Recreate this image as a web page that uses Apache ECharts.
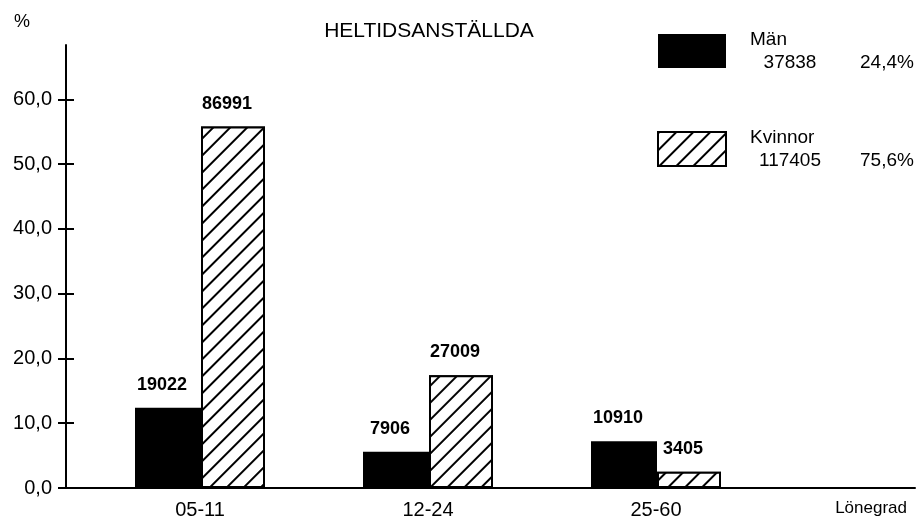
<!DOCTYPE html>
<html>
<head>
<meta charset="utf-8">
<script src="https://cdn.jsdelivr.net/npm/echarts@6/dist/echarts.min.js"></script>
<style>
  html, body { margin: 0; padding: 0; background: #fff; }
  #chart { width: 921px; height: 522px; }
</style>
</head>
<body>
<div id="chart"></div>
<script>
const categories = ['05-11', '12-24', '25-60'];
const manValues = [12.4, 5.6, 7.2];
const kvinnorValues = [55.8, 17.4, 2.5];
const manLabels = ['19022', '7906', '10910'];
const kvinnorLabels = ['86991', '27009', '3405'];
const yTicks = [0, 10, 20, 30, 40, 50, 60];
const legendNames = ['Män', 'Kvinnor'];
const legendCounts = ['37838', '117405'];
const legendShares = ['24,4%', '75,6%'];
const chartTitle = 'HELTIDSANSTÄLLDA';
const yUnit = '%';
const xName = 'Lönegrad';

const FONT = 'Liberation Sans, Arial, sans-serif';
const hatch = {
  symbol: 'rect',
  symbolSize: 1,
  color: '#000',
  backgroundColor: '#fff',
  dashArrayX: [1, 0],
  dashArrayY: [2, 10],
  rotation: -Math.PI / 4
};

const chart = echarts.init(document.getElementById('chart'), null, { renderer: 'canvas' });

const yMax = 68.4;
const grid0 = { left: 66, right: 6, top: 45, bottom: 34 };
const grid1 = { left: 86, right: 151, top: 45, bottom: 34 };
const grid0Width = 921 - grid0.left - grid0.right;

const option = {
  animation: false,
  backgroundColor: '#fff',
  aria: { enabled: false, decal: { show: false } },
  title: [
    { text: chartTitle, left: 424, top: 16, textAlign: 'center',
      textStyle: { fontFamily: FONT, fontSize: 21, fontWeight: 'normal', color: '#000' } },
    { text: yUnit, left: 9, top: 8,
      textStyle: { fontFamily: FONT, fontSize: 18, fontWeight: 'normal', color: '#000' } }
  ],
  legend: {
    orient: 'vertical',
    left: 652,
    top: 25,
    itemWidth: 68,
    itemHeight: 34,
    itemGap: 56,
    icon: 'rect',
    data: [
      { name: legendNames[0], itemStyle: { color: '#000', borderWidth: 0 } },
      { name: legendNames[1], itemStyle: { color: '#fff', borderColor: '#000', borderWidth: 2, decal: hatch } }
    ],
    formatter: function (name) {
      const i = legendNames.indexOf(name);
      return '{n|' + name + '}\n{v|' + legendCounts[i] + '}{p|' + legendShares[i] + '}';
    },
    textStyle: {
      fontFamily: FONT,
      color: '#000',
      padding: [0, 0, 0, 19],
      rich: {
        n: { fontFamily: FONT, fontSize: 19, lineHeight: 23, color: '#000' },
        v: { fontFamily: FONT, fontSize: 19, lineHeight: 23, width: 80, align: 'right', color: '#000' },
        p: { fontFamily: FONT, fontSize: 19, lineHeight: 23, color: '#000', padding: [0, 0, 0, 30] }
      }
    },
    selectedMode: false
  },
  grid: [grid0, grid1],
  xAxis: [
    {
      gridIndex: 0, type: 'value', min: 0, max: 1,
      axisLine: { show: true, lineStyle: { color: '#000', width: 2 } },
      axisTick: { show: false }, axisLabel: { show: false }, splitLine: { show: false },
      name: xName, nameLocation: 'end', nameGap: -8,
      nameTextStyle: { fontFamily: FONT, fontSize: 17, color: '#000', align: 'right', verticalAlign: 'top', padding: [12, 0, 0, 0] }
    },
    {
      gridIndex: 1, type: 'category', data: categories,
      axisLine: { show: false }, axisTick: { show: false }, splitLine: { show: false },
      axisLabel: { fontFamily: FONT, fontSize: 20, color: '#000', margin: 12 }
    }
  ],
  yAxis: [
    {
      gridIndex: 0, type: 'value', min: 0, max: yMax, position: 'left',
      axisLine: { show: true, lineStyle: { color: '#000', width: 2 } },
      axisTick: { show: true, length: 8, customValues: yTicks, lineStyle: { color: '#000', width: 2 } },
      axisLabel: {
        customValues: yTicks, margin: 14, fontFamily: FONT, fontSize: 20, color: '#000',
        formatter: v => v.toFixed(1).replace('.', ',')
      },
      splitLine: { show: false }
    },
    {
      gridIndex: 0, type: 'value', min: 0, max: yMax, position: 'right', offset: -grid0Width,
      axisLine: { show: false },
      axisTick: { show: true, length: 8, customValues: yTicks, lineStyle: { color: '#000', width: 2 } },
      axisLabel: { show: false }, splitLine: { show: false }
    },
    {
      gridIndex: 1, type: 'value', min: 0, max: yMax, show: false
    }
  ],
  series: [
    {
      name: legendNames[0], type: 'bar', xAxisIndex: 1, yAxisIndex: 2,
      data: manValues, barWidth: 66, barGap: '0%',
      itemStyle: { color: '#000' },
      label: {
        show: true, position: 'top', distance: 14, offset: [-6, 0],
        fontFamily: FONT, fontSize: 18, fontWeight: 'bold', color: '#000',
        formatter: p => manLabels[p.dataIndex]
      }
    },
    {
      name: legendNames[1], type: 'bar', xAxisIndex: 1, yAxisIndex: 2,
      data: kvinnorValues, barWidth: 64, barGap: '0%',
      itemStyle: { color: '#fff', borderColor: '#000', borderWidth: 2, decal: hatch },
      label: {
        show: true, position: 'top', distance: 14, offset: [-6, 0],
        fontFamily: FONT, fontSize: 18, fontWeight: 'bold', color: '#000',
        formatter: p => kvinnorLabels[p.dataIndex]
      }
    }
  ]
};

chart.setOption(option);
</script>
</body>
</html>
